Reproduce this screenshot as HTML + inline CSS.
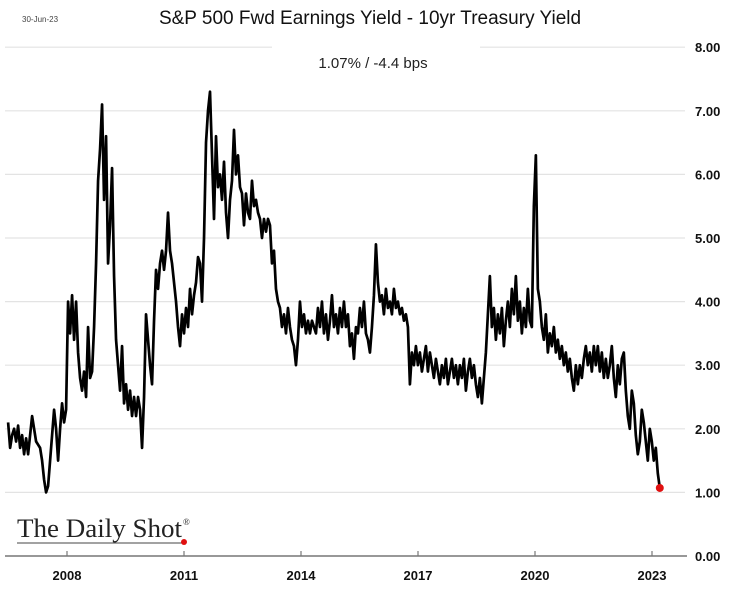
<!DOCTYPE html>
<html><head><meta charset="utf-8"><style>
html,body{margin:0;padding:0;background:#fff;}
svg{display:block;font-family:"Liberation Sans",sans-serif;}
</style></head><body>
<svg id="chart" width="740" height="592" viewBox="0 0 740 592" xmlns="http://www.w3.org/2000/svg">
<text x="22" y="22" font-size="8" fill="#444">30-Jun-23</text>
<text x="370" y="24" font-size="19" text-anchor="middle" fill="#111">S&amp;P 500 Fwd Earnings Yield - 10yr Treasury Yield</text>
<text x="373" y="68" font-size="15" text-anchor="middle" fill="#222">1.07%  /  -4.4 bps</text>
<g id="grid"></g>
<g id="yticks"></g>
<g id="xaxis"></g>
<path id="series" fill="none" stroke="#000" stroke-width="2.7" stroke-linejoin="round"></path>
<circle id="lastdot" r="4" fill="#e01010"></circle>
<g>
<text x="17" y="537" font-family="'Liberation Serif',serif" font-size="26" fill="#222" textLength="165" lengthAdjust="spacingAndGlyphs">The Daily Shot</text>
<text x="183" y="525" font-family="'Liberation Serif',serif" font-size="9" fill="#222">®</text>
<line x1="17" y1="543" x2="184" y2="543" stroke="#444" stroke-width="1"/>
<circle cx="184" cy="542" r="3" fill="#e01010"/>
</g>
</svg>
<script>
const yTicks = [0,1,2,3,4,5,6,7,8];
const yTickLabels = ["0.00","1.00","2.00","3.00","4.00","5.00","6.00","7.00","8.00"];
const xTickYears = [2008,2011,2014,2017,2020,2023];
const xTickLabels = ["2008","2011","2014","2017","2020","2023"];
const startYear = 2006.49;
const endYear = 2023.2;
const values = [2.1,1.7,1.9,2.0,1.8,2.05,1.7,1.9,1.6,1.85,1.6,1.9,2.2,2.0,1.8,1.75,1.7,1.5,1.2,1.0,1.1,1.5,1.9,2.3,2.0,1.5,2.0,2.4,2.1,2.3,4.0,3.5,4.1,3.4,4.0,3.2,2.8,2.6,2.9,2.5,3.6,2.8,2.9,3.6,4.6,5.9,6.4,7.1,5.6,6.6,4.6,5.2,6.1,4.4,3.4,3.0,2.6,3.3,2.4,2.7,2.3,2.6,2.2,2.5,2.2,2.5,2.3,1.7,2.5,3.8,3.4,3.0,2.7,3.7,4.5,4.2,4.6,4.8,4.5,4.8,5.4,4.8,4.6,4.3,4.0,3.6,3.3,3.8,3.5,3.9,3.6,4.2,3.8,4.1,4.3,4.7,4.6,4.0,5.0,6.5,7.0,7.3,6.3,5.3,6.6,5.8,6.0,5.6,6.2,5.4,5.0,5.6,5.9,6.7,6.0,6.3,5.8,5.7,5.2,5.7,5.4,5.3,5.9,5.5,5.6,5.4,5.3,5.0,5.3,5.1,5.3,5.2,4.6,4.8,4.2,4.0,3.9,3.6,3.8,3.5,3.9,3.6,3.4,3.3,3.0,3.4,4.0,3.6,3.8,3.5,3.7,3.5,3.7,3.6,3.5,3.9,3.6,4.0,3.5,3.8,3.4,3.7,4.1,3.6,3.8,3.5,3.9,3.6,4.0,3.6,3.8,3.3,3.5,3.1,3.6,3.5,3.9,3.6,4.0,3.5,3.4,3.2,3.6,4.1,4.9,4.3,4.0,4.1,3.8,4.2,3.9,4.0,3.8,4.2,3.9,4.0,3.8,3.9,3.7,3.8,3.6,2.7,3.2,3.0,3.3,3.0,3.2,2.9,3.1,3.3,2.9,3.2,3.0,2.8,3.1,2.9,2.7,3.0,2.8,3.1,2.7,2.9,3.1,2.8,3.0,2.7,3.0,2.8,3.1,2.6,2.9,3.1,2.8,3.0,2.7,2.5,2.8,2.4,2.8,3.2,3.8,4.4,3.6,3.9,3.4,3.8,3.5,3.9,3.3,3.7,4.0,3.6,4.2,3.8,4.4,3.7,4.0,3.5,3.9,3.6,4.2,3.7,3.6,5.5,6.3,4.2,4.0,3.6,3.4,3.8,3.2,3.5,3.3,3.6,3.2,3.4,3.1,3.3,3.0,3.2,2.9,3.1,2.8,2.6,3.0,2.7,3.0,2.8,3.1,3.3,3.0,3.2,2.9,3.3,3.0,3.3,2.9,3.2,2.8,3.1,2.8,3.0,3.3,2.8,2.5,3.0,2.7,3.1,3.2,2.6,2.2,2.0,2.6,2.4,1.9,1.6,1.8,2.3,2.1,1.8,1.5,2.0,1.8,1.5,1.7,1.3,1.07];

const NS="http://www.w3.org/2000/svg";
const xOf = yr => 67 + (yr-2008)*39;
const yOf = v => 556 - v*63.6;
const grid=document.getElementById('grid'), yt=document.getElementById('yticks'), xa=document.getElementById('xaxis');
function mk(tag,attrs,parent){const e=document.createElementNS(NS,tag);for(const k in attrs)e.setAttribute(k,attrs[k]);parent.appendChild(e);return e;}
yTicks.forEach((v,i)=>{
  const y=yOf(v);
  if(v>0){
    if(v===8){
      const a=mk('line',{x1:5,x2:272,y1:y,y2:y,stroke:'#e3e3e3','stroke-width':1.2},grid);
      
      
      const b=mk('line',{x1:480,x2:685,y1:y,y2:y,stroke:'#e3e3e3','stroke-width':1.2},grid);
      
      
    } else {
      const l=mk('line',{x1:5,x2:685,y1:y,y2:y,stroke:'#e3e3e3','stroke-width':1.2},grid);
      
      
    }
  }
  const t=mk('text',{x:695,y:y+5,'font-size':13,'font-weight':'bold',fill:'#111'},yt);
  t.textContent=yTickLabels[i];
  
  
});
const ax=mk('line',{x1:5,x2:687,y1:556,y2:556,stroke:'#777','stroke-width':1.5},xa);


xTickYears.forEach((yr,i)=>{
  const x=xOf(yr);
  const tk=mk('line',{x1:x,x2:x,y1:551,y2:556,stroke:'#777','stroke-width':1.2},xa);
  
  
  const t=mk('text',{x:x,y:580,'font-size':13,'font-weight':'bold','text-anchor':'middle',fill:'#111'},xa);
  t.textContent=xTickLabels[i];
  
  
});
const step=(endYear-startYear)/(values.length-1);
let d='';
values.forEach((v,i)=>{const x=xOf(startYear+i*step),y=yOf(v);d+=(i?'L':'M')+x.toFixed(2)+' '+y.toFixed(2);});
document.getElementById('series').setAttribute('d',d);
const dot=document.getElementById('lastdot');
dot.setAttribute('cx',xOf(endYear));
dot.setAttribute('cy',yOf(values[values.length-1]));
</script>
</body></html>
